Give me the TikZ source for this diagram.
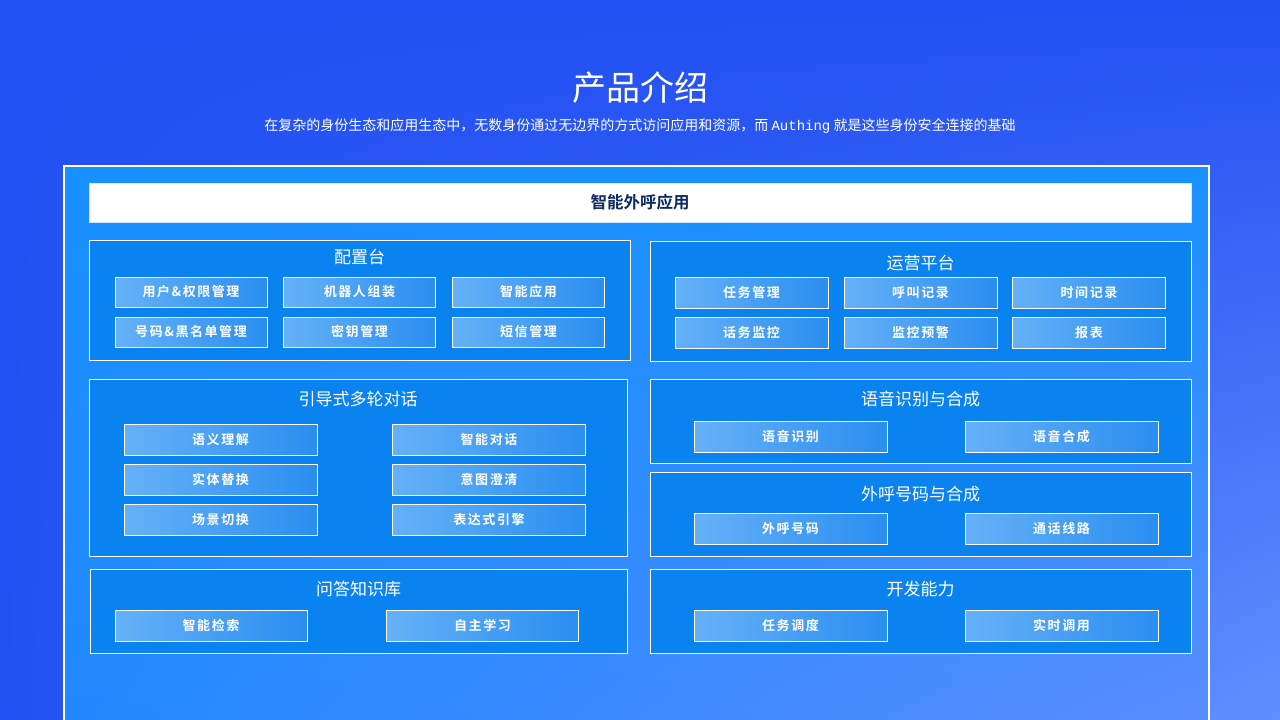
\documentclass[tikz,border=0pt]{standalone}
\usepackage{fontspec}
\usetikzlibrary{shadings}
\setmainfont{Noto Sans CJK SC}
\newfontfamily\cjkbold{Noto Sans CJK SC Bold}
\newfontfamily\cjkboldsp[LetterSpace=12]{Noto Sans CJK SC Bold}
\newfontfamily\monof{Liberation Mono}
\definecolor{bgblue}{HTML}{2350F2}
\definecolor{bglight}{HTML}{6090FF}
\definecolor{paneltop}{HTML}{1890FF}
\definecolor{panelll}{HTML}{2288FF}
\definecolor{panellr}{HTML}{5A8CFF}
\definecolor{boxblue}{HTML}{0A82F0}
\definecolor{btnleft}{HTML}{66B1F8}
\definecolor{btnright}{HTML}{2A8EF0}
\definecolor{navy}{HTML}{0B2A66}
\begin{document}
\begin{tikzpicture}[x=1pt,y=-1pt,
  box/.style={draw=white,fill=boxblue,line width=1pt,inner sep=0pt,minimum width=#1},
  btn/.style={draw=white,left color=btnleft,right color=btnright,line width=1pt,inner sep=0pt,text=white,font=\cjkboldsp\fontsize{13}{13}\selectfont},
  ttl/.style={text=white,font=\fontsize{17}{17}\selectfont,inner sep=0pt}]
\useasboundingbox (0,0) rectangle (1280,720);
\shade[upper left=bgblue,upper right=bgblue,lower left=bgblue,lower right=bglight] (0,0) rectangle (1280,720);
\shade[upper left=paneltop,upper right=paneltop,lower left=panelll,lower right=panellr] (64,166) rectangle (1209,722);
\draw[white,line width=1.5pt] (64,722) -- (64,166) -- (1209,166) -- (1209,722);
\node[text=white,font=\fontsize{34}{34}\selectfont] (title) at (640,88) {产品介绍};
\node[text=white,font=\fontsize{14}{14}\selectfont] (sub) at (640,126) {在复杂的身份生态和应用生态中，无数身份通过无边界的方式访问应用和资源，而 {\monof Authing} 就是这些身份安全连接的基础};
% top bar
\node[draw=white!80!paneltop,fill=white,minimum width=1102,minimum height=39,inner sep=0pt,text=navy,font=\cjkbold\fontsize{16.5}{16.5}\selectfont] (top) at (640,202.5) {智能外呼应用};
% 配置台
\node[box=541,minimum height=120] (pz) at (359.5,300) {};
\node[ttl] (pzt) at (359.5,257) {配置台};
\node[btn,minimum width=152,minimum height=30] (pz1) at (191,292) {用户\&权限管理};
\node[btn,minimum width=152,minimum height=30] (pz2) at (359.5,292) {机器人组装};
\node[btn,minimum width=152,minimum height=30] (pz3) at (528.5,292) {智能应用};
\node[btn,minimum width=152,minimum height=30] (pz4) at (191,332) {号码\&黑名单管理};
\node[btn,minimum width=152,minimum height=30] (pz5) at (359.5,332) {密钥管理};
\node[btn,minimum width=152,minimum height=30] (pz6) at (528.5,332) {短信管理};
% 运营平台
\node[box=541,minimum height=120] (yy) at (920.5,301) {};
\node[ttl] (yyt) at (920.5,263) {运营平台};
\node[btn,minimum width=153,minimum height=31] (yy1) at (751.5,292.5) {任务管理};
\node[btn,minimum width=153,minimum height=31] (yy2) at (920.5,292.5) {呼叫记录};
\node[btn,minimum width=153,minimum height=31] (yy3) at (1089,292.5) {时间记录};
\node[btn,minimum width=153,minimum height=31] (yy4) at (751.5,332.5) {话务监控};
\node[btn,minimum width=153,minimum height=31] (yy5) at (920.5,332.5) {监控预警};
\node[btn,minimum width=153,minimum height=31] (yy6) at (1089,332.5) {报表};
% 引导式多轮对话
\node[box=538,minimum height=177] (yd) at (358,467.5) {};
\node[ttl] (ydt) at (358,399) {引导式多轮对话};
\node[btn,minimum width=193,minimum height=31] (yd1) at (220.5,439.5) {语义理解};
\node[btn,minimum width=193,minimum height=31] (yd2) at (489,439.5) {智能对话};
\node[btn,minimum width=193,minimum height=31] (yd3) at (220.5,479.5) {实体替换};
\node[btn,minimum width=193,minimum height=31] (yd4) at (489,479.5) {意图澄清};
\node[btn,minimum width=193,minimum height=31] (yd5) at (220.5,519.5) {场景切换};
\node[btn,minimum width=193,minimum height=31] (yd6) at (489,519.5) {表达式引擎};
% 问答知识库
\node[box=537,minimum height=84] (wd) at (358.5,611) {};
\node[ttl] (wdt) at (358.5,589) {问答知识库};
\node[btn,minimum width=192,minimum height=31] (wd1) at (211,625.5) {智能检索};
\node[btn,minimum width=192,minimum height=31] (wd2) at (482.5,625.5) {自主学习};
% 语音识别与合成
\node[box=541,minimum height=84] (sb) at (920.5,421) {};
\node[ttl] (sbt) at (920.5,399) {语音识别与合成};
\node[btn,minimum width=193,minimum height=31] (sb1) at (790.5,436.5) {语音识别};
\node[btn,minimum width=193,minimum height=31] (sb2) at (1061.5,436.5) {语音合成};
% 外呼号码与合成
\node[box=541,minimum height=84] (wh) at (920.5,514) {};
\node[ttl] (wht) at (920.5,494) {外呼号码与合成};
\node[btn,minimum width=193,minimum height=31] (wh1) at (790.5,528.5) {外呼号码};
\node[btn,minimum width=193,minimum height=31] (wh2) at (1061.5,528.5) {通话线路};
% 开发能力
\node[box=541,minimum height=84] (kf) at (920.5,611) {};
\node[ttl] (kft) at (920.5,589) {开发能力};
\node[btn,minimum width=193,minimum height=31] (kf1) at (790.5,625.5) {任务调度};
\node[btn,minimum width=193,minimum height=31] (kf2) at (1061.5,625.5) {实时调用};
\end{tikzpicture}
\end{document}
